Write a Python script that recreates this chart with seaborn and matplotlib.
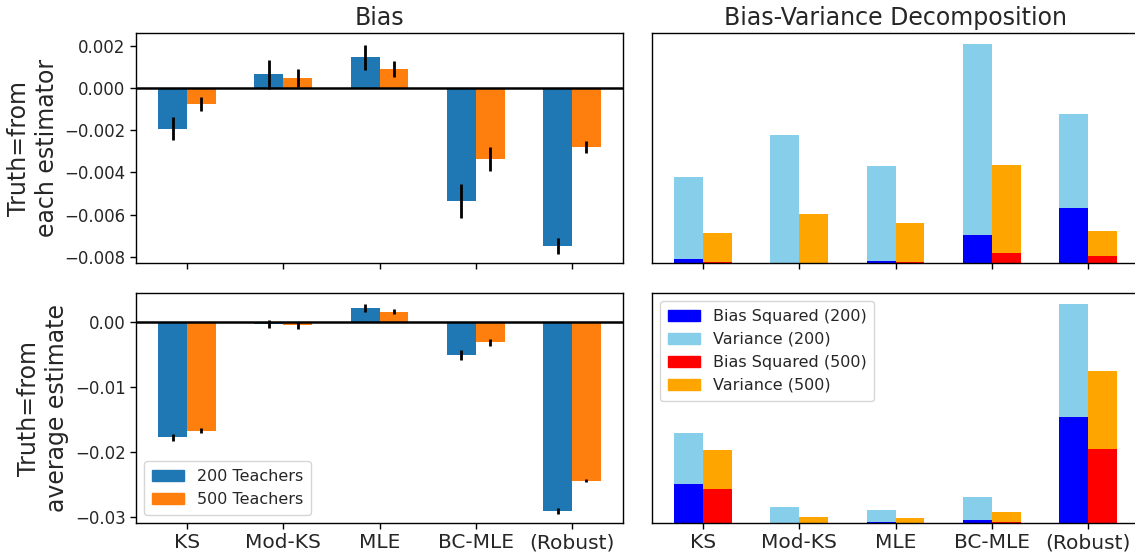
import numpy as np
import pandas as pd
import matplotlib
matplotlib.use("Agg")
import matplotlib.pyplot as plt
import seaborn as sns
from matplotlib.patches import Patch

# ---------------- data ----------------
categories = ["KS", "Mod-KS", "MLE", "BC-MLE", "(Robust)"]
groups = ["200 Teachers", "500 Teachers"]

# Bias, truth = from each estimator
bias_each_200 = [-0.00193, 0.00066, 0.00147, -0.00536, -0.00749]
bias_each_500 = [-0.00076, 0.00047, 0.00090, -0.00336, -0.00280]
err_each_200 = [0.00054, 0.00068, 0.00059, 0.00079, 0.00039]
err_each_500 = [0.00034, 0.00043, 0.00038, 0.00055, 0.00027]

# Bias, truth = from average estimate
bias_avg_200 = [-0.01774, -0.00030, 0.00220, -0.00510, -0.02900]
bias_avg_500 = [-0.01667, -0.00050, 0.00160, -0.00310, -0.02440]
err_avg_200 = [0.00056, 0.00064, 0.00060, 0.00077, 0.00044]
err_avg_500 = [0.00038, 0.00050, 0.00040, 0.00054, 0.00026]

# Bias-variance decomposition (units of 1e-5)
bias2_each_200 = [0.36, 0.05, 0.22, 2.86, 5.60]
var_each_200 = [8.40, 12.95, 9.70, 19.45, 9.60]
bias2_each_500 = [0.06, 0.03, 0.08, 1.05, 0.70]
var_each_500 = [3.00, 4.97, 4.00, 8.93, 2.56]

bias2_avg_200 = [31.0, 0.01, 0.48, 2.00, 83.8]
var_avg_200 = [40.2, 12.8, 10.0, 18.7, 89.0]
bias2_avg_500 = [27.0, 0.03, 0.26, 1.00, 58.5]
var_avg_500 = [30.8, 5.0, 3.9, 7.9, 61.5]

row_labels = ["Truth=from\neach estimator", "Truth=from\naverage estimate"]

# ---------------- style ----------------
sns.set_style("ticks")
plt.rcParams["font.family"] = ["DejaVu Sans"]
plt.rcParams["axes.linewidth"] = 1.0

W, H = 1135, 556
fig = plt.figure(figsize=(W / 100, H / 100), dpi=100)

def frac(x0, y0, x1, y1):
    return [x0 / W, 1 - y1 / H, (x1 - x0) / W, (y1 - y0) / H]

ax_tl = fig.add_axes(frac(136, 33, 623, 263))
ax_bl = fig.add_axes(frac(136, 293, 623, 523))
ax_tr = fig.add_axes(frac(652, 33, 1139, 263))
ax_br = fig.add_axes(frac(652, 293, 1139, 523))

blue, orange = "#1f77b4", "#ff7f0e"

def bias_panel(ax, b200, b500, e200, e500, ylim, yticks, fmt, legend):
    df = pd.DataFrame({
        "cat": categories * 2,
        "grp": [groups[0]] * 5 + [groups[1]] * 5,
        "val": list(b200) + list(b500),
    })
    sns.barplot(data=df, x="cat", y="val", hue="grp", order=categories,
                hue_order=groups, palette=[blue, orange], width=0.6,
                saturation=1, errorbar=None, ax=ax, legend=False,
                linewidth=0)
    pos = np.arange(len(categories))
    ax.errorbar(pos - 0.15, b200, yerr=e200, fmt="none", ecolor="black",
                elinewidth=2, capsize=0)
    ax.errorbar(pos + 0.15, b500, yerr=e500, fmt="none", ecolor="black",
                elinewidth=2, capsize=0)
    ax.axhline(0, color="black", lw=1.8)
    ax.set_xlim(-0.53, 4.53)
    ax.set_ylim(*ylim)
    ax.set_yticks(yticks)
    ax.set_yticklabels([fmt(t) for t in yticks])
    ax.set_xlabel("")
    ax.set_ylabel("")
    if legend:
        handles = [Patch(color=blue, label=groups[0]),
                   Patch(color=orange, label=groups[1])]
        ax.legend(handles=handles, loc="lower left", fontsize=11.5,
                  handlelength=2.0, borderpad=0.5, framealpha=0.8)

def dec_panel(ax, bb2, vv2, bb5, vv5, legend):
    tot2 = [b + v for b, v in zip(bb2, vv2)]
    tot5 = [b + v for b, v in zip(bb5, vv5)]
    df_tot = pd.DataFrame({
        "cat": categories * 2,
        "grp": ["200"] * 5 + ["500"] * 5,
        "val": tot2 + tot5,
    })
    df_b = pd.DataFrame({
        "cat": categories * 2,
        "grp": ["200"] * 5 + ["500"] * 5,
        "val": list(bb2) + list(bb5),
    })
    sns.barplot(data=df_tot, x="cat", y="val", hue="grp", order=categories,
                hue_order=["200", "500"], palette=["skyblue", "orange"],
                width=0.6, saturation=1, errorbar=None, ax=ax, legend=False,
                linewidth=0)
    sns.barplot(data=df_b, x="cat", y="val", hue="grp", order=categories,
                hue_order=["200", "500"], palette=["blue", "red"],
                width=0.6, saturation=1, errorbar=None, ax=ax, legend=False,
                linewidth=0)
    top = max(max(tot2), max(tot5))
    ax.set_ylim(0, top * 1.05)
    ax.set_xlim(-0.53, 4.53)
    ax.set_yticks([])
    ax.set_xlabel("")
    ax.set_ylabel("")
    if legend:
        handles = [Patch(color="blue", label="Bias Squared (200)"),
                   Patch(color="skyblue", label="Variance (200)"),
                   Patch(color="red", label="Bias Squared (500)"),
                   Patch(color="orange", label="Variance (500)")]
        ax.legend(handles=handles, loc="upper left", fontsize=11.5,
                  handlelength=2.0, borderpad=0.5, framealpha=0.8)

bias_panel(ax_tl, bias_each_200, bias_each_500, err_each_200, err_each_500,
           (-0.0083, 0.00262), [-0.008, -0.006, -0.004, -0.002, 0.0, 0.002],
           lambda t: f"{t:.3f}".replace("-", "\u2212"), False)
bias_panel(ax_bl, bias_avg_200, bias_avg_500, err_avg_200, err_avg_500,
           (-0.0309, 0.0045), [-0.03, -0.02, -0.01, 0.0],
           lambda t: f"{t:.2f}".replace("-", "\u2212"), True)
dec_panel(ax_tr, bias2_each_200, var_each_200, bias2_each_500, var_each_500, False)
dec_panel(ax_br, bias2_avg_200, var_avg_200, bias2_avg_500, var_avg_500, True)

for ax in (ax_tl, ax_tr):
    ax.tick_params(axis="x", labelbottom=False)
for ax in (ax_bl, ax_br):
    ax.tick_params(axis="x", labelsize=14.5)
for ax in (ax_tl, ax_bl, ax_tr, ax_br):
    ax.tick_params(axis="both", direction="out", length=4, width=1, color="black")
    ax.tick_params(axis="y", labelsize=12)
    for s in ax.spines.values():
        s.set_visible(True)
        s.set_color("black")

ax_tl.set_title("Bias", fontsize=17)
ax_tr.set_title("Bias-Variance Decomposition", fontsize=17)
ax_tl.set_ylabel(row_labels[0], fontsize=17)
ax_bl.set_ylabel(row_labels[1], fontsize=17)

fig.savefig("out.png", dpi=100)
